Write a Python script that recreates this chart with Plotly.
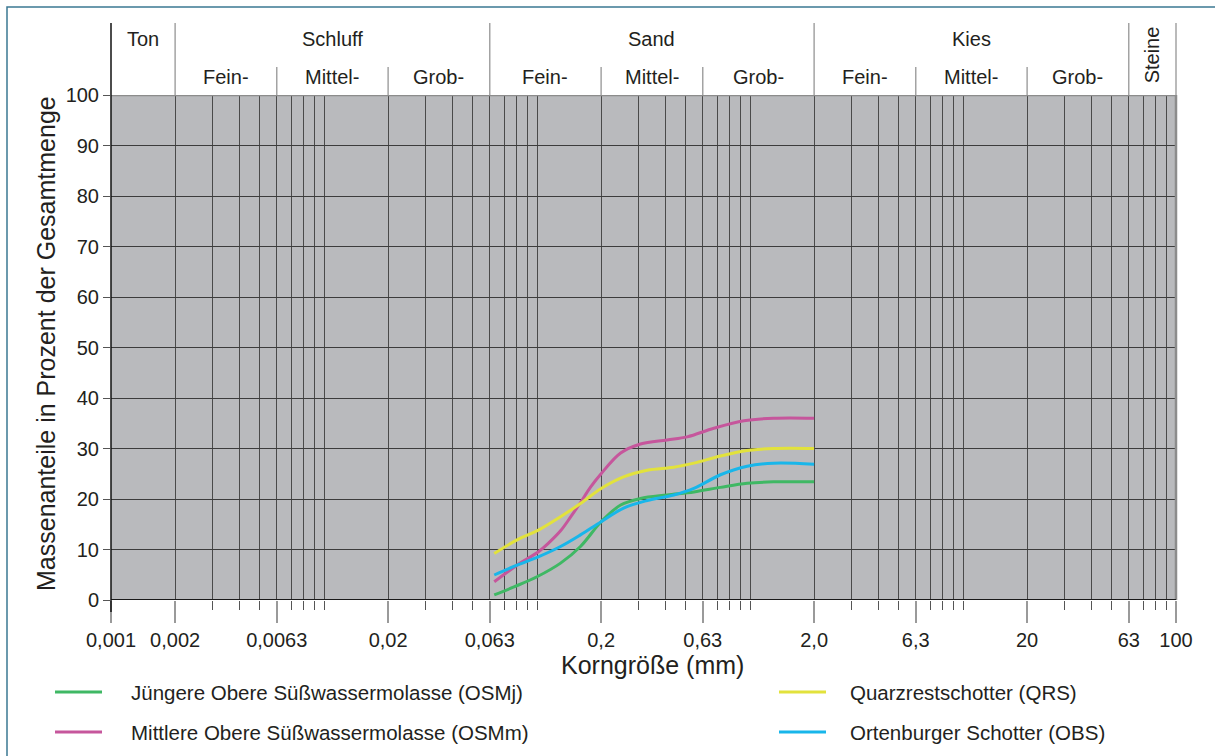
import math
import plotly.graph_objects as go

# Grain size (mm) and cumulative mass share (%) for each sediment unit
size_osmj = [0.063, 0.078, 0.1, 0.129, 0.16, 0.2, 0.247, 0.306, 0.408, 0.545, 0.727, 0.97, 1.29, 2.0]
pct_osmj = [1.0, 2.6, 4.6, 7.3, 10.6, 15.5, 18.8, 20.1, 20.8, 21.4, 22.3, 23.1, 23.4, 23.4]

size_osmm = [0.063, 0.0806, 0.102, 0.1135, 0.129, 0.1436, 0.16, 0.178, 0.2, 0.247, 0.306, 0.408,
             0.507, 0.676, 0.936, 1.29, 2.0]
pct_osmm = [3.6, 6.9, 9.6, 11.3, 13.7, 16.4, 19.3, 22.3, 25.0, 29.1, 30.9, 31.7,
            32.3, 34.0, 35.5, 36.0, 36.0]

size_qrs = [0.063, 0.0806, 0.102, 0.129, 0.16, 0.2, 0.255, 0.329, 0.439, 0.545, 0.727, 0.97, 1.29, 2.0]
pct_qrs = [9.2, 11.9, 13.9, 16.5, 19.1, 22.1, 24.4, 25.7, 26.3, 27.1, 28.5, 29.6, 30.0, 30.0]

size_obs = [0.063, 0.0806, 0.102, 0.129, 0.16, 0.2, 0.255, 0.329, 0.439, 0.545, 0.727, 0.97, 1.29, 2.0]
pct_obs = [4.95, 6.9, 8.6, 10.6, 12.9, 15.5, 18.2, 19.7, 20.8, 22.1, 24.8, 26.5, 27.1, 26.9]

series_names = [
    "Jüngere Obere Süßwassermolasse (OSMj)",
    "Mittlere Obere Süßwassermolasse (OSMm)",
    "Quarzrestschotter (QRS)",
    "Ortenburger Schotter (OBS)",
]
series_colors = ["#3fb864", "#c6569c", "#e2e23c", "#18b6ea"]

# Axis ticks
major_ticks = [0.001, 0.002, 0.006, 0.02, 0.06, 0.2, 0.6, 2, 6, 20, 60, 100]
major_labels = ["0,001", "0,002", "0,0063", "0,02", "0,063", "0,2", "0,63", "2,0", "6,3", "20", "63", "100"]
minor_ticks = [0.003, 0.004, 0.005, 0.007, 0.008, 0.009, 0.01,
               0.03, 0.04, 0.05, 0.07, 0.08, 0.09, 0.1,
               0.3, 0.4, 0.5, 0.7, 0.8, 0.9, 1,
               3, 4, 5, 7, 8, 9, 10,
               30, 40, 50, 70, 80, 90]
y_ticks = list(range(0, 101, 10))

# Grain size classes (header bands)
main_classes = [("Ton", 0.001, 0.002), ("Schluff", 0.002, 0.06), ("Sand", 0.06, 2),
                ("Kies", 2, 60)]
sub_classes = [("Fein-", 0.002, 0.006), ("Mittel-", 0.006, 0.02), ("Grob-", 0.02, 0.06),
               ("Fein-", 0.06, 0.2), ("Mittel-", 0.2, 0.6), ("Grob-", 0.6, 2),
               ("Fein-", 2, 6), ("Mittel-", 6, 20), ("Grob-", 20, 60)]

XMIN, XMAX = 0.001, 100
FONT = "Liberation Sans, Arial, Helvetica, sans-serif"
TXT = "#231f20"

W, H = 1215, 756
ML, MR, MT, MB = 111, 39, 95, 156
PW = W - ML - MR
PH = H - MT - MB


def px(v):
    """Paper x coordinate of a grain size on the log axis."""
    return (math.log10(v) - math.log10(XMIN)) / (math.log10(XMAX) - math.log10(XMIN))


def pxp(pix):
    """Paper x coordinate from a pixel column of the page."""
    return (pix - ML) / PW


def py(pix):
    """Paper y coordinate from a pixel row of the page."""
    return (H - MB - pix) / PH


fig = go.Figure()
for xs, ys, name, col in zip([size_osmj, size_osmm, size_qrs, size_obs],
                             [pct_osmj, pct_osmm, pct_qrs, pct_obs],
                             series_names, series_colors):
    fig.add_trace(go.Scatter(x=xs, y=ys, mode="lines", name=name,
                             line=dict(color=col, width=3, shape="spline", smoothing=1.0),
                             showlegend=False, hoverinfo="x+y+name"))

shapes = []
annotations = []

# Plot frame: top and right edges grey, bottom black
shapes.append(dict(type="line", xref="paper", yref="y", x0=0, x1=1, y0=100, y1=100,
                   line=dict(color="#8c8c8c", width=2.5), layer="above"))
shapes.append(dict(type="line", xref="paper", yref="paper", x0=1, x1=1, y0=0, y1=1,
                   line=dict(color="#8c8c8c", width=2.5), layer="above"))
shapes.append(dict(type="line", xref="paper", yref="y", x0=0, x1=1, y0=0, y1=0,
                   line=dict(color="#1a1a1a", width=2), layer="above"))
# left axis line running up through the header
shapes.append(dict(type="line", xref="paper", yref="paper", x0=0, x1=0, y0=py(612), y1=py(23),
                   line=dict(color="#111111", width=1.5), layer="above"))

# Header separators
for v in [0.002, 0.06, 2, 60, 100]:
    shapes.append(dict(type="line", xref="paper", yref="paper", x0=px(v), x1=px(v),
                       y0=1, y1=py(23), line=dict(color="#a3a3a3", width=1.5)))
for v in [0.006, 0.02, 0.2, 0.6, 6, 20]:
    shapes.append(dict(type="line", xref="paper", yref="paper", x0=px(v), x1=px(v),
                       y0=1, y1=py(67), line=dict(color="#a3a3a3", width=1.5)))

for name, a, b in main_classes:
    annotations.append(dict(text=name, xref="paper", yref="paper",
                            x=(px(a) + px(b)) / 2, y=py(39), showarrow=False,
                            font=dict(family=FONT, size=20, color=TXT),
                            xanchor="center", yanchor="middle"))
for name, a, b in sub_classes:
    annotations.append(dict(text=name, xref="paper", yref="paper",
                            x=(px(a) + px(b)) / 2, y=py(77), showarrow=False,
                            font=dict(family=FONT, size=20, color=TXT),
                            xanchor="center", yanchor="middle"))
annotations.append(dict(text="Steine", xref="paper", yref="paper",
                        x=(px(60) + px(100)) / 2, y=py(55), showarrow=False, textangle=-90,
                        font=dict(family=FONT, size=20, color=TXT),
                        xanchor="center", yanchor="middle"))

# Axis titles
annotations.append(dict(text="Korngröße (mm)", xref="paper", yref="paper",
                        x=pxp(652), y=py(665), showarrow=False,
                        font=dict(family=FONT, size=25, color=TXT),
                        xanchor="center", yanchor="middle"))
annotations.append(dict(text="Massenanteile in Prozent der Gesamtmenge", xref="paper", yref="paper",
                        x=pxp(46), y=py(344), showarrow=False, textangle=-90,
                        font=dict(family=FONT, size=25, color=TXT),
                        xanchor="center", yanchor="middle"))

# Legend (two columns)
legend_pos = [(55, 692), (55, 732), (779, 692), (779, 732)]
legend_text_x = [129, 129, 848, 848]
for (lx, ly), tx, name, col in zip(legend_pos, legend_text_x, series_names, series_colors):
    shapes.append(dict(type="line", xref="paper", yref="paper",
                       x0=pxp(lx), x1=pxp(lx + 47),
                       y0=py(ly), y1=py(ly), line=dict(color=col, width=3)))
    annotations.append(dict(text=name, xref="paper", yref="paper",
                            x=pxp(tx), y=py(ly), showarrow=False,
                            font=dict(family=FONT, size=20.5, color=TXT),
                            xanchor="left", yanchor="middle"))

# Outer page frame (left and top edges visible)
shapes.append(dict(type="rect", xref="paper", yref="paper",
                   x0=pxp(7), x1=1.5, y0=-1, y1=py(7),
                   line=dict(color="#3b7893", width=1.5)))

fig.update_layout(
    width=W, height=H,
    margin=dict(l=ML, r=MR, t=MT, b=MB),
    paper_bgcolor="white",
    plot_bgcolor="#b9babd",
    font=dict(family=FONT, size=20, color=TXT),
    shapes=shapes,
    annotations=annotations,
    showlegend=False,
)

fig.update_xaxes(
    type="log", range=[math.log10(XMIN), math.log10(XMAX)],
    tickmode="array", tickvals=major_ticks, ticktext=major_labels,
    ticks="outside", ticklen=22, tickcolor="#9a9a9a", tickwidth=1.5,
    showgrid=True, gridcolor="#4a4a4a", gridwidth=1,
    tickfont=dict(family=FONT, size=20, color=TXT),
    minor=dict(tickmode="array", tickvals=minor_ticks, ticks="outside", ticklen=9,
               tickcolor="#555555", tickwidth=1, showgrid=True, gridcolor="#4a4a4a", gridwidth=1),
    showline=False, zeroline=False, fixedrange=True,
)
fig.update_yaxes(
    range=[0, 100], tickmode="array", tickvals=y_ticks,
    ticks="outside", ticklen=7, tickcolor="#555555", tickwidth=1,
    showgrid=True, gridcolor="#3c3c3c", gridwidth=1,
    tickfont=dict(family=FONT, size=20, color=TXT),
    showline=False, zeroline=False, fixedrange=True,
)

fig.write_html("out.html")
